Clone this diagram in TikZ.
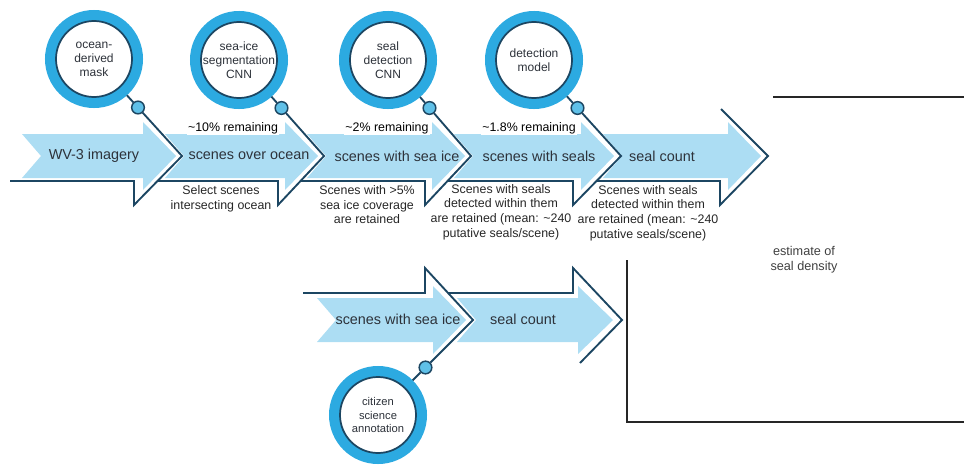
\documentclass[tikz,border=0pt]{standalone}
\usepackage{fontspec}
\setmainfont{Liberation Sans}
\usetikzlibrary{calc,positioning}
\definecolor{flowblue}{RGB}{172,221,243}
\definecolor{ringblue}{RGB}{44,170,225}
\definecolor{knobblue}{RGB}{95,192,232}
\definecolor{navy}{RGB}{28,70,98}
\definecolor{inkgray}{RGB}{45,50,58}

\begin{document}
\begin{tikzpicture}[x=0.75pt,y=-0.75pt,
    rim/.style={draw=navy, line width=1.4pt},
    frame/.style={draw=black!85, line width=1pt},
    lens/.style={circle, minimum size=57pt, inner sep=0pt, fill=white, draw=navy, line width=1.3pt,
      outer sep=8.25pt, preaction={draw=ringblue, line width=16.5pt}},
    lenstext/.style={align=center, font=\fontsize{9}{10.5}\selectfont, text=inkgray},
    knob/.style={circle, minimum size=9.5pt, inner sep=0pt, fill=knobblue, draw=navy, line width=1.1pt},
    stage/.style={font=\fontsize{10.8}{13}\selectfont, text=inkgray},
    share/.style={font=\fontsize{9.3}{11}\selectfont, fill=white, inner sep=1pt},
    note/.style={font=\fontsize{9.3}{10.9}\selectfont, align=center, text=black!85}
  ]
  \useasboundingbox (0,0) rectangle (964,468);

  % flow arrows (tail x, head x, tip x, centre y)
  \foreach \xl/\xh/\xt/\yc in {22/143/176/156, 165/285/318/156, 307/432/465/156,
      454/581/614/156, 603/728/761/156, 317/433/466/320, 457/578/613/320}
    \fill[flowblue] (\xl,\yc-22) -- (\xh,\yc-22) -- (\xh,\yc-34) -- (\xt,\yc)
      -- (\xh,\yc+34) -- (\xh,\yc+22) -- (\xl,\yc+22) -- (\xl+19,\yc) -- cycle;

  % lenses
  \node[lens, label={[lenstext]center:ocean-\\derived\\mask}] (mask) at (94,59) {};
  \node[lens, label={[lenstext]center:sea-ice\\segmentation\\CNN}] (segcnn) at (239,60) {};
  \node[lens, label={[lenstext]center:seal\\detection\\CNN}] (detcnn) at (388,60) {};
  \node[lens, label={[lenstext]center:detection\\model}] (detmodel) at (534,60) {};
  \node[lens, label={[lenstext, font=\fontsize{8.4}{10.2}\selectfont]center:citizen\\science\\annotation}] (citizen) at (378,415) {};

  \coordinate (t1) at (182,156);
  \coordinate (t2) at (324,156);
  \coordinate (t3) at (471,156);
  \coordinate (t4) at (621,156);
  \coordinate (t5) at (768,156);
  \coordinate (tl1) at (473,320);
  \coordinate (tl2) at (622,320);

  \node[knob] (k1) at ($(mask)!0.5!(t1)$) {};
  \node[knob] (k2) at ($(segcnn)!0.5!(t2)$) {};
  \node[knob] (k3) at ($(detcnn)!0.5!(t3)$) {};
  \node[knob] (k4) at ($(detmodel)!0.5!(t4)$) {};
  \node[knob] (kl) at ($(citizen)!0.5!(tl1)$) {};

  % outlines and handles
  \draw[rim] (10,181) -- (134,181) -- (134,205) -- (t1) -- (k1) (k1) -- (mask);
  \draw[rim] (157,181) -- (278,181) -- (278,205) -- (t2) -- (k2) (k2) -- (segcnn);
  \draw[rim] (301,181) -- (425,181) -- (425,205) -- (t3) -- (k3) (k3) -- (detcnn);
  \draw[rim] (448,181) -- (573,181) -- (573,205) -- (t4) -- (k4) (k4) -- (detmodel);
  \draw[rim] (597,181) -- (720,181) -- (720,205) -- (t5) -- (721,109);
  \draw[rim] (303,293) -- (425,293) -- (425,268) -- (tl1) -- (kl) (kl) -- (citizen);
  \draw[rim] (448,293) -- (573,293) -- (573,268) -- (tl2) -- (580,363);

  % stage labels
  \node[stage] (imagery) at (94,156) {WV-3 imagery};
  \node[stage] (ocean) at (249,156) {scenes over ocean};
  \node[stage] (seaice) at (397,156) {scenes with sea ice};
  \node[stage] (seals) at (539,156) {scenes with seals};
  \node[stage] (count) at (662,156) {seal count};
  \node[stage] (seaice2) at (398,319) {scenes with sea ice};
  \node[stage] (count2) at (523,319) {seal count};

  % shares kept
  \node[share] (share1) at (233,128) {\textasciitilde10\% remaining};
  \node[share] (share2) at (387,128) {\textasciitilde2\% remaining};
  \node[share] (share3) at (529,128) {\textasciitilde1.8\% remaining};

  % rules
  \node[note] (rule1) at (221,199) {Select scenes\\intersecting ocean};
  \node[note] (rule2) at (367,205) {Scenes with >5\%\\sea ice coverage\\are retained};
  \node[note] (rule3) at (501,212) {Scenes with seals\\detected within them\\are retained (mean: \textasciitilde240\\putative seals/scene)};
  \node[note] (rule4) at (648,213) {Scenes with seals\\detected within them\\are retained (mean: \textasciitilde240\\putative seals/scene)};

  % density frame
  \draw[frame] (773,97) -- (964,97);
  \draw[frame] (627,260) -- (627,422) -- (964,422);
  \node[note, text=black!75, font=\fontsize{9.5}{11}\selectfont] (density) at (804,260) {estimate of\\seal density};
\end{tikzpicture}
\end{document}
